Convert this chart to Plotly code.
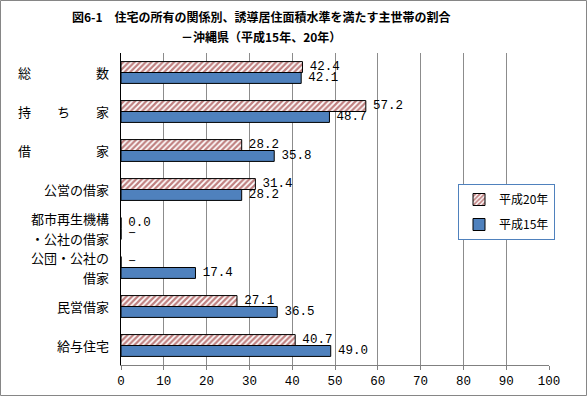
import plotly.graph_objects as go

categories = [
    "総　　　　　数",
    "持　　ち　　家",
    "借　　　　　家",
    "公営の借家",
    "都市再生機構<br>・公社の借家",
    "公団・公社の<br>借家",
    "民営借家",
    "給与住宅",
]
series_names = ["平成20年", "平成15年"]
h20 = [42.4, 57.2, 28.2, 31.4, 0.0, None, 27.1, 40.7]
h15 = [42.1, 48.7, 35.8, 28.2, None, 17.4, 36.5, 49.0]
x_ticks = [0, 10, 20, 30, 40, 50, 60, 70, 80, 90, 100]
title_lines = ["図6-1　住宅の所有の関係別、誘導居住面積水準を満たす主世帯の割合",
               "－沖縄県（平成15年、20年）"]

W, H = 587, 396
L, R, T, B = 121, 38, 53, 31
PW, PH = W - L - R, H - T - B

def vals(a):
    return [0 if v is None else v for v in a]

def labels(a):
    pad = "\u2004"
    return [pad + ("−" if v is None else f"{v:.1f}") for v in a]

def px_x(px):
    return (px - L) / PW

def px_y(py):
    return (H - B - py) / PH

num_font = dict(family="Liberation Mono, DejaVu Sans Mono, monospace", size=12.5, color="#000000")
jp = "Noto Sans CJK JP, sans-serif"

fig = go.Figure()
fig.add_trace(go.Bar(
    y=categories, x=vals(h20), orientation="h", name=series_names[0],
    text=labels(h20), textposition="outside", textfont=num_font, cliponaxis=False,
    constraintext="none",
    marker=dict(color="white", line=dict(color="#000000", width=1),
                pattern=dict(shape="/", fgcolor="#800000", bgcolor="white", size=4, solidity=0.55)),
    legendgroup="a",
))
fig.add_trace(go.Bar(
    y=categories, x=vals(h15), orientation="h", name=series_names[1],
    text=labels(h15), textposition="outside", textfont=num_font, cliponaxis=False,
    constraintext="none",
    marker=dict(color="#4F81BD", line=dict(color="#000000", width=1)),
    legendgroup="b",
))

annotations = []
# category labels, one annotation per line so line spacing matches
for cat in categories:
    lines = cat.split("<br>")
    n = len(lines)
    for i, ln in enumerate(lines):
        annotations.append(dict(
            text=ln, xref="paper", yref="y", x=0, y=cat, xanchor="right", yanchor="middle",
            xshift=-10, yshift=((n - 1) / 2 - i) * 20, showarrow=False,
            font=dict(family=jp, size=13, color="#000000")))
# title
for i, t in enumerate(title_lines):
    annotations.append(dict(
        text=f"<b>{t}</b>", xref="paper", yref="paper", x=px_x(261), y=px_y(17 + 20 * i),
        xanchor="center", yanchor="middle", showarrow=False,
        font=dict(family=jp, size=12, color="#000000")))

fig.update_layout(
    width=W, height=H,
    margin=dict(l=L, r=R, t=T, b=B, autoexpand=False),
    paper_bgcolor="white", plot_bgcolor="white",
    barmode="group", bargap=0.44, bargroupgap=0,
    showlegend=True,
    legend=dict(x=px_x(458), y=px_y(184), xanchor="left", yanchor="top",
                bordercolor="#4F81BD", borderwidth=1, bgcolor="white",
                font=dict(family=jp, size=12, color="#000000"),
                itemwidth=30, tracegroupgap=6, traceorder="grouped"),
    font=dict(family=jp, size=13, color="#000000"),
    annotations=annotations,
    shapes=[dict(type="rect", xref="paper", yref="paper",
                 x0=px_x(0.5), x1=px_x(W - 0.5),
                 y0=px_y(H - 0.5), y1=px_y(0.5),
                 line=dict(color="#868686", width=1), fillcolor="rgba(0,0,0,0)", layer="below")],
)
fig.update_xaxes(range=[0, 100], tickvals=x_ticks, ticktext=[str(v) for v in x_ticks],
                 showgrid=True, gridcolor="#8C8C8C", gridwidth=1,
                 showline=True, linecolor="#808080", linewidth=1,
                 ticks="outside", ticklen=4, tickcolor="#808080",
                 tickfont=num_font, zeroline=False, automargin=False)
fig.update_yaxes(autorange="reversed", showline=True, linecolor="#000000", linewidth=1,
                 ticks="", showticklabels=False, showgrid=False, automargin=False)

fig.write_html("out.html", config={"displayModeBar": False},
               post_script="document.body.style.margin='0';")
